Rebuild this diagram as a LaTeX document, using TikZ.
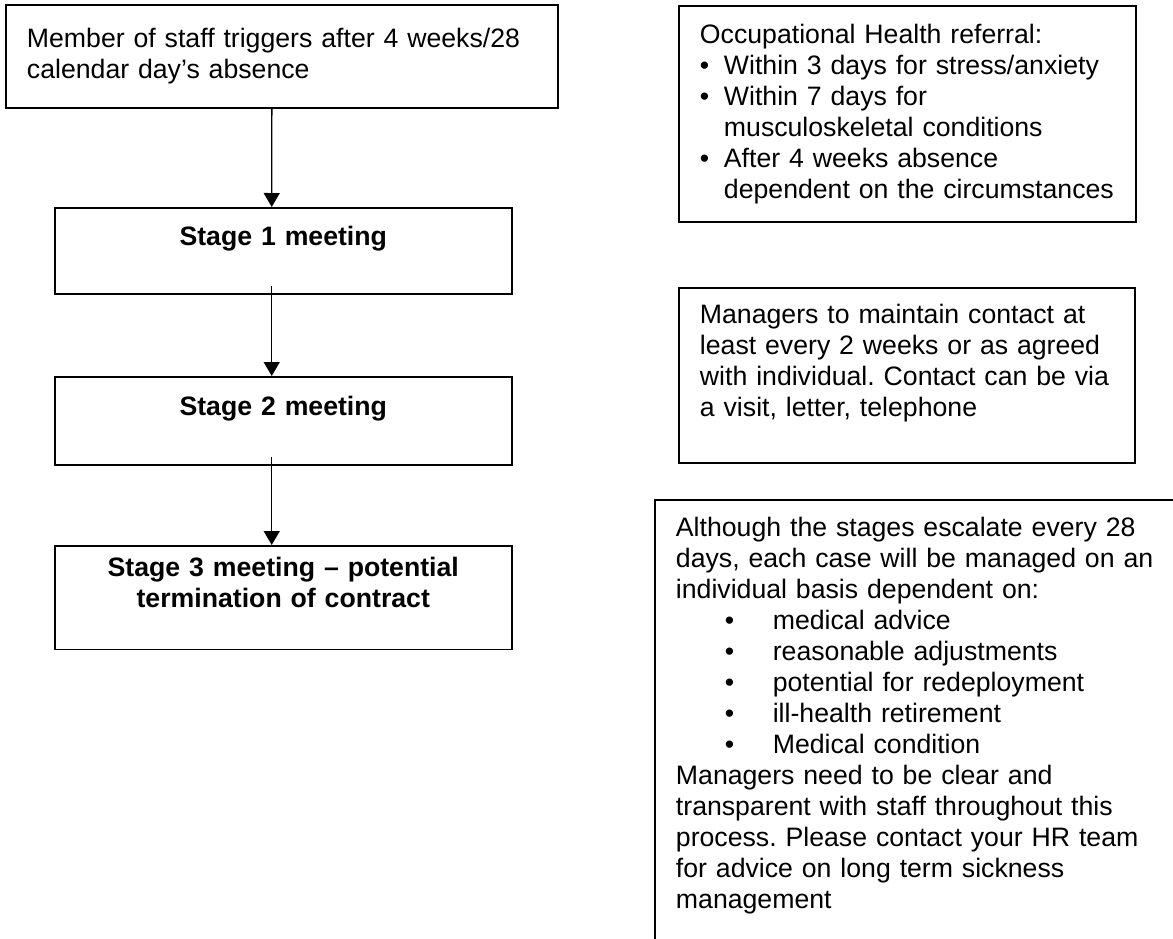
\documentclass[tikz,border=0pt]{standalone}
\usepackage{fontspec}
\setmainfont{Liberation Sans}
\usetikzlibrary{arrows.meta}
\frenchspacing
\newcommand{\refbul}{\makebox[10.8pt][l]{•}}
\newcommand{\refind}{\hspace*{10.8pt}}
\newcommand{\casebul}{\hspace*{22pt}\makebox[21.6pt][l]{•}}

\begin{document}
\begin{tikzpicture}[
  x=0.45pt,y=-0.45pt,
  font=\fontsize{12}{13.95}\selectfont,
  box/.style={draw,line width=0.75pt,anchor=north west,align=left,inner xsep=9.5pt,inner ysep=5pt},
  stagebox/.style={box,align=center,font=\fontsize{12}{13.95}\selectfont\bfseries,text width=186.6pt},
  flow/.style={line width=0.6pt,-{Triangle[length=6.3pt,width=7.2pt]}}
]
\useasboundingbox (0,0) rectangle (1173,938);
% left column
\node[box,text width=229.4pt,minimum height=46.4pt] (trig) at (5,4)
  {Member of staff triggers after 4 weeks/28\\calendar day’s absence};
\node[stagebox,minimum height=38.7pt] (s1) at (54,207) {Stage 1 meeting\\ \mbox{}};
\node[stagebox,minimum height=39.6pt] (s2) at (54,376) {Stage 2 meeting\\ \mbox{}};
\node[stagebox,minimum height=40.5pt] (s3) at (54,545)
  {Stage 3 meeting – potential\\termination of contract\\ \mbox{}};
\draw[flow] ([xshift=-4.5pt]trig.south) -- ([xshift=-5.2pt]s1.north);
\draw[flow,shorten <=-4pt] ([xshift=-5.2pt]s1.south) -- ([xshift=-5.2pt]s2.north);
\draw[flow,shorten <=-4pt] ([xshift=-5.2pt]s2.south) -- ([xshift=-5.2pt]s3.north);
% right column
\node[box,text width=186.6pt,minimum height=97.2pt] (occ) at (678,5)
  {Occupational Health referral:\\
   \refbul Within 3 days for stress/anxiety\\
   \refbul Within 7 days for\\
   \refind musculoskeletal conditions\\
   \refbul After 4 weeks absence\\
   \refind dependent on the circumstances};
\node[box,text width=186.2pt,minimum height=78.8pt] (cont) at (678,287)
  {Managers to maintain contact at\\least every 2 weeks or as agreed\\with individual. Contact can be via\\a visit, letter, telephone\\ \mbox{}};
\node[box,text width=240pt,inner ysep=8pt] (note) at (654,499)
  {Although the stages escalate every 28\\
   days, each case will be managed on an\\
   individual basis dependent on:\\
   \casebul medical advice\\
   \casebul reasonable adjustments\\
   \casebul potential for redeployment\\
   \casebul ill-health retirement\\
   \casebul Medical condition\\
   Managers need to be clear and\\
   transparent with staff throughout this\\
   process. Please contact your HR team\\
   for advice on long term sickness\\
   management\\ \mbox{}\\ \mbox{}};
\end{tikzpicture}
\end{document}
